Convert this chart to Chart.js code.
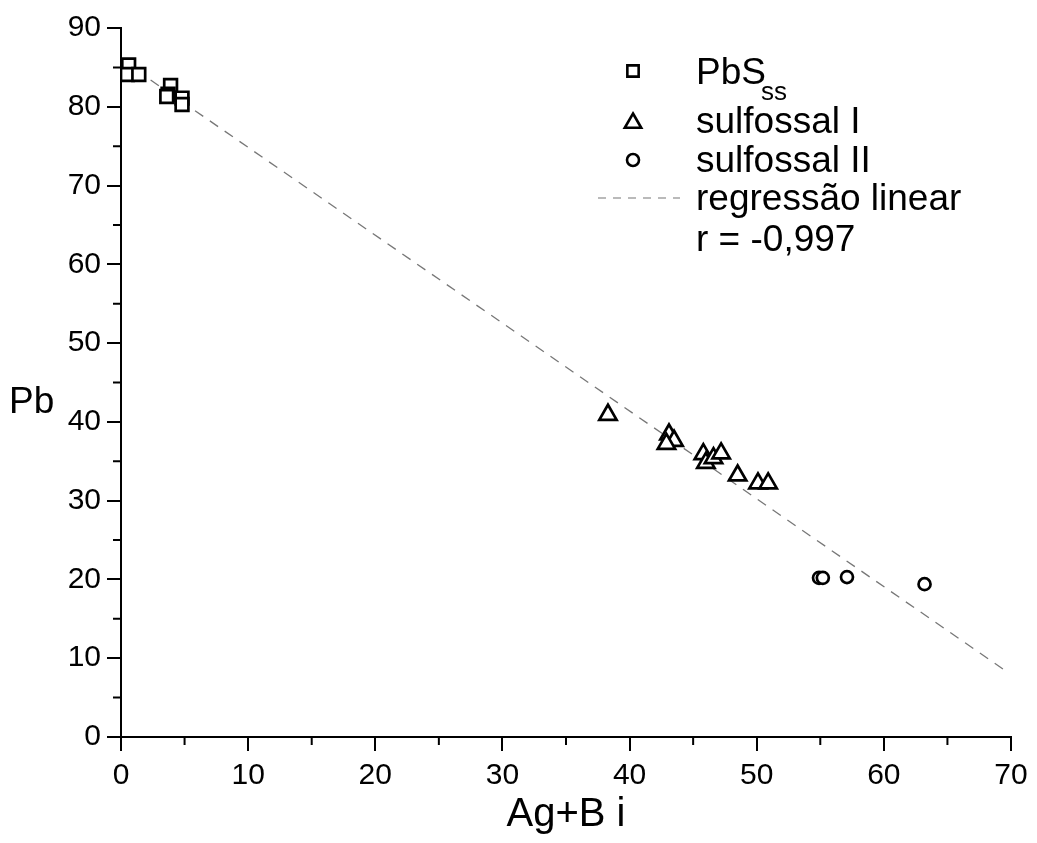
<!DOCTYPE html>
<html>
<head>
<meta charset="utf-8">
<script src="https://cdn.jsdelivr.net/npm/chart.js@4"></script>
<style>
  body { margin: 0; background: #fff; }
  #wrap { width: 1037px; height: 843px; }
</style>
</head>
<body>
<div id="wrap"><canvas id="grafico" width="1037" height="843"></canvas></div>
<script>
// PbS ss (quadrados)
const pbsX = [0.6, 0.5, 1.4, 3.9, 3.7, 3.6, 4.8, 4.8];
const pbsY = [85.3, 84.1, 84.1, 82.7, 81.6, 81.3, 81.1, 80.3];
// sulfossal I (triangulos)
const sulf1X = [38.3, 43.1, 43.5, 42.9, 45.8, 46.0, 46.6, 47.2, 48.5, 50.1, 50.9];
const sulf1Y = [40.9, 38.4, 37.6, 37.2, 35.9, 34.8, 35.4, 36.0, 33.2, 32.2, 32.2];
// sulfossal II (circulos)
const sulf2X = [54.9, 55.2, 57.1, 63.2];
const sulf2Y = [20.2, 20.2, 20.3, 19.4];
// regressao linear
const regX = [0, 69.4];
const regY = [86.0, 8.6];

const xTicks = [0, 10, 20, 30, 40, 50, 60, 70];
const yTicks = [0, 10, 20, 30, 40, 50, 60, 70, 80, 90];
const legendaTextos = ["PbS", "sulfossal I", "sulfossal II", "regressão linear", "r = -0,997"];

function pontos(xs, ys) {
  return xs.map((x, i) => ({ x: x, y: ys[i] }));
}

const fonte = "'Liberation Sans', Arial, sans-serif";

const extras = {
  id: "extras",
  afterDraw(chart) {
    const ctx = chart.ctx;
    const sx = chart.scales.x;
    const sy = chart.scales.y;
    ctx.save();
    // marcas menores
    ctx.strokeStyle = "#000";
    ctx.lineWidth = 2;
    ctx.beginPath();
    for (let v = 5; v < 70; v += 10) {
      const px = sx.getPixelForValue(v);
      ctx.moveTo(px, sy.bottom);
      ctx.lineTo(px, sy.bottom + 8);
    }
    for (let v = 5; v < 90; v += 10) {
      const py = sy.getPixelForValue(v);
      ctx.moveTo(sx.left, py);
      ctx.lineTo(sx.left - 8, py);
    }
    ctx.stroke();

    // titulo do eixo y (horizontal)
    ctx.fillStyle = "#000";
    ctx.font = "37px " + fonte;
    ctx.textBaseline = "alphabetic";
    ctx.textAlign = "left";
    ctx.fillText("Pb", 9, 413);

    // legenda
    const mx = 633;
    const tx = 696;
    ctx.strokeStyle = "#000";
    ctx.fillStyle = "#fff";
    ctx.lineWidth = 2.6;
    Chart.helpers.drawPoint(ctx, { pointStyle: "rect", radius: 8, borderWidth: 2.6, rotation: 0 }, mx, 71);
    ctx.fillStyle = "#fff";
    Chart.helpers.drawPoint(ctx, { pointStyle: "triangle", radius: 9.5, borderWidth: 2.6, rotation: 0 }, mx, 123);
    ctx.fillStyle = "#fff";
    Chart.helpers.drawPoint(ctx, { pointStyle: "circle", radius: 6, borderWidth: 2.6, rotation: 0 }, mx, 160);

    ctx.strokeStyle = "#777";
    ctx.lineWidth = 1.2;
    ctx.setLineDash([8, 7]);
    ctx.beginPath();
    ctx.moveTo(598, 198);
    ctx.lineTo(680, 198);
    ctx.stroke();
    ctx.setLineDash([]);

    ctx.fillStyle = "#000";
    ctx.font = "37px " + fonte;
    ctx.fillText(legendaTextos[0], tx, 84);
    const w = ctx.measureText(legendaTextos[0]).width;
    ctx.font = "26px " + fonte;
    ctx.fillText("ss", tx + w - 5, 100);
    ctx.font = "37px " + fonte;
    ctx.fillText(legendaTextos[1], tx, 133);
    ctx.fillText(legendaTextos[2], tx, 172);
    ctx.fillText(legendaTextos[3], tx, 210);
    ctx.fillText(legendaTextos[4], tx, 251);
    ctx.restore();
  }
};

const marcador = {
  backgroundColor: "#fff",
  borderColor: "#000",
  borderWidth: 2.7,
  showLine: false
};

new Chart(document.getElementById("grafico"), {
  type: "scatter",
  data: {
    datasets: [
      {
        type: "line",
        label: "regressão linear",
        data: pontos(regX, regY),
        borderColor: "#777",
        borderWidth: 1.3,
        borderDash: [10, 8],
        pointRadius: 0,
        fill: false,
        order: 4
      },
      Object.assign({ label: "PbS", data: pontos(pbsX, pbsY), pointStyle: "rect", pointRadius: 9, order: 1 }, marcador),
      Object.assign({ label: "sulfossal I", data: pontos(sulf1X, sulf1Y), pointStyle: "triangle", pointRadius: 10, order: 2 }, marcador),
      Object.assign({ label: "sulfossal II", data: pontos(sulf2X, sulf2Y), pointStyle: "circle", pointRadius: 6, order: 3 }, marcador)
    ]
  },
  options: {
    responsive: false,
    animation: false,
    layout: { padding: { left: 0, right: 26, top: 28, bottom: 0 } },
    plugins: {
      legend: { display: false },
      tooltip: { enabled: false }
    },
    scales: {
      x: {
        type: "linear",
        min: 0,
        max: 70,
        afterBuildTicks: (s) => { s.ticks = xTicks.map((v) => ({ value: v })); },
        afterFit: (s) => { s.height = 843 - 737; },
        border: { color: "#000", width: 2 },
        grid: { drawOnChartArea: false, drawTicks: true, tickLength: 14, color: "#000", lineWidth: 2 },
        ticks: { color: "#000", padding: 7, font: { family: fonte, size: 30 } },
        title: {
          display: true,
          text: "Ag+B i",
          color: "#000",
          padding: { top: 2, bottom: 4 },
          font: { family: fonte, size: 40 }
        }
      },
      y: {
        type: "linear",
        min: 0,
        max: 90,
        afterBuildTicks: (s) => { s.ticks = yTicks.map((v) => ({ value: v })); },
        afterFit: (s) => { s.width = 121; },
        border: { color: "#000", width: 2 },
        grid: { drawOnChartArea: false, drawTicks: true, tickLength: 14, color: "#000", lineWidth: 2 },
        ticks: { color: "#000", padding: 6, font: { family: fonte, size: 30 } }
      }
    }
  },
  plugins: [extras]
});
</script>
</body>
</html>
